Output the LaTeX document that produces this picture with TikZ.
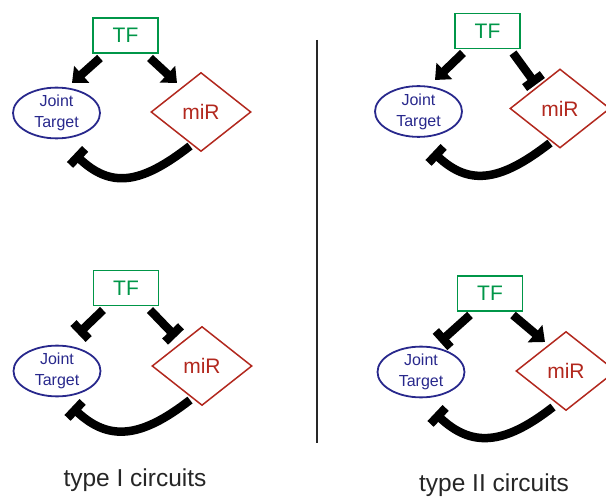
\documentclass[tikz,border=0pt]{standalone}
\usepackage{fontspec}
\setmainfont{Liberation Sans}
\usetikzlibrary{shapes.geometric,arrows.meta,calc}
\definecolor{tfgreen}{RGB}{0,150,72}
\definecolor{jtblue}{RGB}{40,40,140}
\definecolor{mirred}{RGB}{178,40,30}
\definecolor{divgray}{RGB}{40,40,40}
\begin{document}
\begin{tikzpicture}[x=1pt,y=-1pt,
  tfbox/.style={draw=tfgreen,line width=1.8pt,text=tfgreen,minimum width=65,minimum height=35,inner sep=0,font=\fontsize{21}{22}\selectfont},
  jtell/.style={ellipse,draw=jtblue,line width=1.8pt,text=jtblue,minimum width=87,minimum height=48,inner sep=0,align=center,font=\fontsize{16}{21}\selectfont},
  mirdia/.style={diamond,draw=mirred,line width=1.5pt,text=mirred,minimum width=100,minimum height=79,inner sep=0,font=\fontsize{21}{22}\selectfont},
  act/.style={line width=8.5pt,-{Triangle[width=22pt,length=13pt]}},
  inh/.style={line width=8.5pt,-{Bar[width=22pt]}},
  loopinh/.style={line width=8.5pt,-{Bar[width=22pt]}},
  divider/.style={draw=divgray,line width=1.4pt},
  caption/.style={font=\fontsize{24.5}{26}\selectfont,text=black!85}]
\useasboundingbox (0,0) rectangle (606,497);
% panel 1
\node[tfbox] (tf1) at (125.5,35.5) {TF};
\node[jtell] (jt1) at (56.5,113) {Joint\\Target};
\node[mirdia] (mr1) at (201,112) {miR};
\draw[act] ($(tf1.center)+(-25.5,22.5)$) -- ($(jt1.center)+(15.5,-30)$);
\draw[act] ($(tf1.center)+(24.5,22.5)$) -- ($(mr1.center)+(-24,-29)$);
\draw[loopinh] ($(mr1.center)+(-11,34)$) .. controls +(-50,39) and +(36,34) .. ($(jt1.center)+(18,41)$);
% panel 2
\node[tfbox] (tf2) at (487.5,31) {TF};
\node[jtell] (jt2) at (418.5,111.5) {Joint\\Target};
\node[mirdia] (mr2) at (560,108.5) {miR};
\draw[act] ($(tf2.center)+(-24.5,22)$) -- ($(jt2.center)+(16.5,-31.5)$);
\draw[inh] ($(tf2.center)+(25.5,22)$) -- ($(mr2.center)+(-24,-24)$);
\draw[loopinh] ($(mr2.center)+(-10,34.5)$) .. controls +(-50,39) and +(36,34) .. ($(jt2.center)+(14.5,40.5)$);
% panel 3
\node[tfbox] (tf3) at (126,288) {TF};
\node[jtell] (jt3) at (57,371) {Joint\\Target};
\node[mirdia] (mr3) at (202,366) {miR};
\draw[inh] ($(tf3.center)+(-23,22)$) -- ($(jt3.center)+(21,-37)$);
\draw[inh] ($(tf3.center)+(24,22)$) -- ($(mr3.center)+(-26,-29)$);
\draw[loopinh] ($(mr3.center)+(-12,34)$) .. controls +(-50,39) and +(36,34) .. ($(jt3.center)+(15,36)$);
% panel 4
\node[tfbox] (tf4) at (490,293.5) {TF};
\node[jtell] (jt4) at (421,372) {Joint\\Target};
\node[mirdia] (mr4) at (566,371) {miR};
\draw[inh] ($(tf4.center)+(-20,21.5)$) -- ($(jt4.center)+(19,-30)$);
\draw[act] ($(tf4.center)+(23,21.5)$) -- ($(mr4.center)+(-21,-29)$);
\draw[loopinh] ($(mr4.center)+(-13,36)$) .. controls +(-50,39) and +(36,34) .. ($(jt4.center)+(14,41)$);
% divider and captions
\coordinate (dtop) at (317,40);
\coordinate (dbot) at (317,443);
\draw[divider] (dtop) -- (dbot);
\node[caption] (cap1) at (135,480) {type I circuits};
\node[caption] (cap2) at (494,485) {type II circuits};
\end{tikzpicture}
\end{document}
